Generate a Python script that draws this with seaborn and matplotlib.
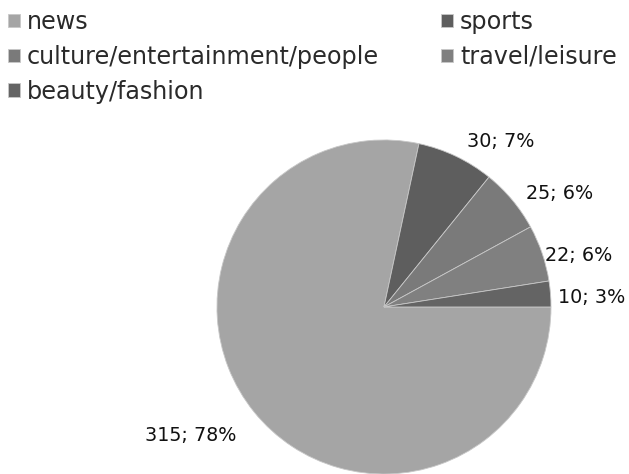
import matplotlib
matplotlib.use("Agg")
import matplotlib.pyplot as plt
import seaborn as sns
import numpy as np

sns.set_theme(style="white")
plt.rcParams["font.family"] = ["DejaVu Sans"]

# Articles by topic
categories = ["news", "sports", "culture/entertainment/people",
              "travel/leisure", "beauty/fashion"]
counts = [315, 30, 25, 22, 10]
percents = [78, 7, 6, 6, 3]
colors = ["#a5a5a5", "#5e5e5e", "#7a7a7a", "#808080", "#646464"]

labels = [f"{c}; {p}%" for c, p in zip(counts, percents)]

fig = plt.figure(figsize=(6.29, 4.74), dpi=100)
ax = fig.add_axes([0, 0, 1, 1])

wedges, _ = ax.pie(counts, colors=colors, startangle=0, counterclock=False,
                   radius=1.0, wedgeprops=dict(edgecolor="#c8c8c8", linewidth=0.6))

# Data-label positions (in units of the pie radius)
label_pos = [(-1.156, -0.772), (0.70, 0.99), (1.054, 0.68), (1.168, 0.31), (1.245, 0.054)]
for (x, y), txt in zip(label_pos, labels):
    ax.text(x, y, txt, ha="center", va="center", fontsize=13.8, color="#111111")

ax.set_xlim(-2.299, 1.467)
ax.set_ylim(-1.0, 1.838)
ax.set_aspect("auto")
ax.axis("off")

order = [0, 2, 4, 1, 3]
fig.legend([wedges[i] for i in order], [categories[i] for i in order],
           loc="upper left", bbox_to_anchor=(-0.022, 1.024), ncol=2, frameon=False,
           fontsize=17.2, handlelength=0.5, handleheight=0.5, handletextpad=0.3,
           labelspacing=0.45, columnspacing=2.6, labelcolor="#2a2a2a")

fig.savefig("out.png", dpi=100)
